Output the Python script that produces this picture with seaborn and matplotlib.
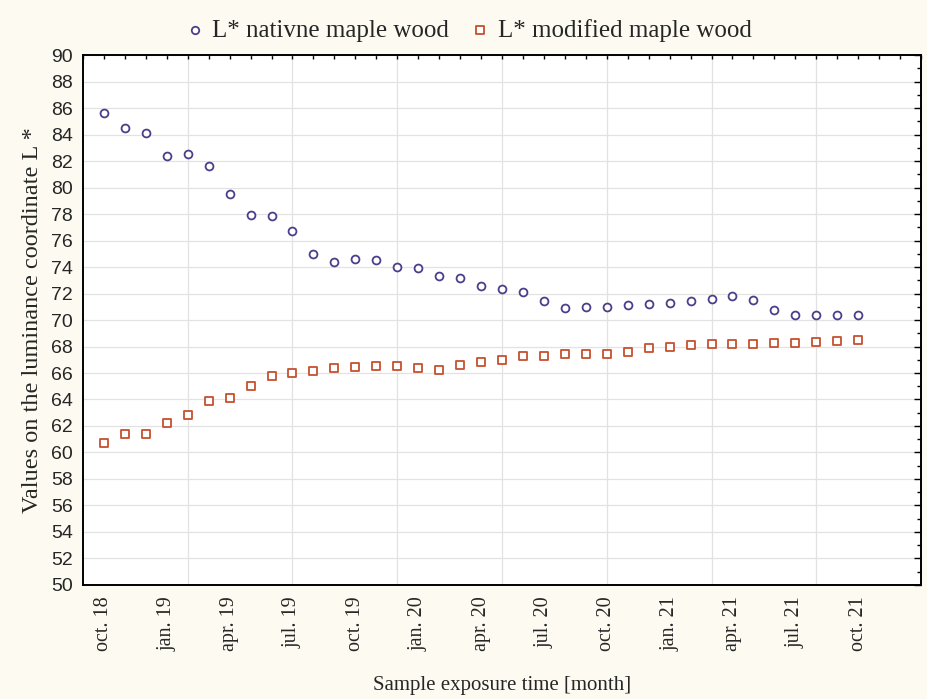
import matplotlib
matplotlib.use("Agg")
import matplotlib.pyplot as plt
from matplotlib.ticker import MultipleLocator, FixedLocator
import seaborn as sns
import numpy as np
import pandas as pd

# month index (oct. 18 = 1 ... oct. 21 = 37)
months = list(range(1, 38))

native = [85.6, 84.5, 84.1, 82.4, 82.5, 81.6, 79.5, 77.9, 77.85, 76.7,
          74.95, 74.4, 74.6, 74.5, 74.0, 73.9, 73.3, 73.2, 72.6, 72.35,
          72.1, 71.4, 70.9, 71.0, 71.0, 71.1, 71.2, 71.3, 71.4, 71.6,
          71.8, 71.5, 70.75, 70.4, 70.4, 70.4, 70.4]
modified = [60.75, 61.4, 61.4, 62.2, 62.85, 63.9, 64.1, 65.0, 65.8, 66.0,
            66.15, 66.35, 66.45, 66.5, 66.5, 66.4, 66.25, 66.6, 66.8, 67.0,
            67.25, 67.3, 67.45, 67.4, 67.4, 67.6, 67.9, 68.0, 68.1, 68.2,
            68.2, 68.2, 68.3, 68.25, 68.35, 68.45, 68.5]

tick_pos = list(range(1, 38, 3))
tick_labels = ["oct. 18", "jan. 19", "apr. 19", "jul. 19", "oct. 19", "jan. 20",
               "apr. 20", "jul. 20", "oct. 20", "jan. 21", "apr. 21", "jul. 21",
               "oct. 21"]

df = pd.DataFrame({"month": months, "native": native, "modified": modified})

sns.set_theme(style="white")
plt.rcParams['font.family'] = ['Liberation Serif', 'DejaVu Serif']

fig = plt.figure(figsize=(9.28, 6.99), dpi=100, facecolor="#fdfbf1")
ax = fig.add_axes([0.0894, 0.1631, 0.9031, 0.7582])
ax.set_facecolor("white")

c_nat = "#4b3f8c"
c_mod = "#c4502e"

sns.scatterplot(data=df, x="month", y="native", ax=ax, marker="o", s=32,
                color="white", edgecolor=c_nat, linewidth=1.3,
                label="L* nativne maple wood", zorder=3)
sns.scatterplot(data=df, x="month", y="modified", ax=ax, marker="s", s=36,
                color="white", edgecolor=c_mod, linewidth=1.3,
                label="L* modified maple wood", zorder=3)

ax.set_xlim(0, 40)
ax.set_ylim(50, 90)

# grid
for gx in range(5, 40, 5):
    ax.axvline(gx, color="#e2e2e2", lw=0.9, zorder=0)
ax.yaxis.set_major_locator(MultipleLocator(2))
ax.yaxis.set_minor_locator(MultipleLocator(1))
ax.grid(axis="y", which="major", color="#e2e2e2", lw=0.9, zorder=0)
ax.set_axisbelow(True)

ax.xaxis.set_major_locator(FixedLocator(tick_pos))
ax.xaxis.set_minor_locator(MultipleLocator(1))
ax.set_xticklabels(tick_labels, rotation=90, fontsize=14.5)
for lab in ax.get_yticklabels():
    lab.set_family("Liberation Sans")
    lab.set_fontsize(14)

ax.tick_params(which="both", direction="in", top=True, right=True,
               color="black", width=1.0)
ax.tick_params(axis="y", which="major", length=5, pad=7)
ax.tick_params(axis="y", which="minor", length=3)
ax.tick_params(axis="x", which="major", length=3, pad=8)
ax.tick_params(axis="x", which="minor", length=3)

for sp in ax.spines.values():
    sp.set_color("black")
    sp.set_linewidth(1.4)

ax.set_xlabel("Sample exposure time [month]", fontsize=15, labelpad=18)
ax.set_ylabel("Values on the luminance coordinate L *", fontsize=17.5, labelpad=6)

ax.get_legend().remove()
handles, labels = ax.get_legend_handles_labels()
fig.legend(handles, labels, loc="center", bbox_to_anchor=(0.505, 0.957), ncol=2,
           frameon=False, fontsize=18, markerscale=0.95, handlelength=0.7,
           handletextpad=0.35, columnspacing=0.9)

fig.savefig("out.png", dpi=100, facecolor=fig.get_facecolor())
